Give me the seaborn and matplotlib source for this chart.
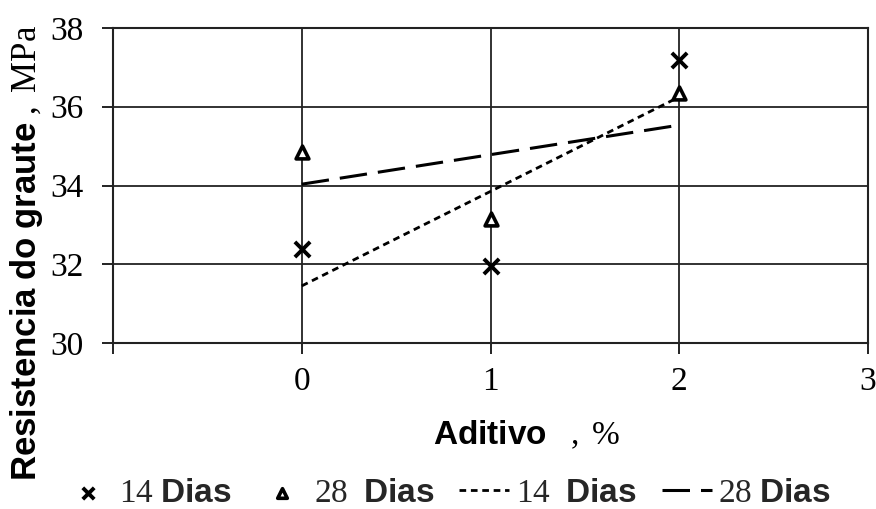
import numpy as np
import pandas as pd
import matplotlib
matplotlib.use("Agg")
import matplotlib.pyplot as plt
import seaborn as sns

# Compressive strength of the grout vs. additive content
aditivo = [0, 1, 2]
dias_14 = [32.4, 31.95, 37.2]
dias_28 = [34.85, 33.15, 36.35]

x_ticks = [-1, 0, 1, 2, 3]
x_ticklabels = ["", "0", "1", "2", "3"]
y_ticks = [30, 32, 34, 36, 38]

lab_14 = r"$\mathrm{14}\ \mathbf{Dias}$"
lab_28 = r"$\mathrm{28}\ \ \mathbf{Dias}$"
lab_14_fit = r"$\mathrm{14}\ \ \mathbf{Dias}$"
lab_28_fit = r"$\mathrm{28}\ \mathbf{Dias}$"

sns.set_theme(style="white")
plt.rcParams.update({
    "font.family": ["Liberation Serif", "DejaVu Serif"],
    "mathtext.fontset": "custom",
    "mathtext.rm": "Liberation Serif",
    "mathtext.bf": "Liberation Sans:bold",
    "mathtext.it": "Liberation Serif:italic",
    "mathtext.sf": "Liberation Sans",
})

df = pd.DataFrame({"aditivo": aditivo, "d14": dias_14, "d28": dias_28})

fig = plt.figure(figsize=(8.76, 5.09), dpi=100)
ax = fig.add_axes([113 / 876, 1 - 343 / 509, 755 / 876, 315 / 509])

# measured points
sns.scatterplot(data=df, x="aditivo", y="d14", marker="x", s=120,
                color="black", linewidth=2.8, ax=ax, label=lab_14, zorder=5)
sns.scatterplot(data=df, x="aditivo", y="d28", marker="^", s=85,
                facecolor="white", edgecolor="black", linewidth=2.6,
                ax=ax, label=lab_28, zorder=5)

# linear trend lines
sns.regplot(data=df, x="aditivo", y="d14", scatter=False, ci=None,
            truncate=True, color="black", ax=ax, label=lab_14_fit,
            line_kws=dict(linewidth=2.0, linestyle=(0, (2.4, 1.7)), zorder=4))
sns.regplot(data=df, x="aditivo", y="d28", scatter=False, ci=None,
            truncate=True, color="black", ax=ax, label=lab_28_fit,
            line_kws=dict(linewidth=2.2, linestyle=(0, (9.0, 3.6)), zorder=4))

ax.set_xlim(-1, 3)
ax.set_ylim(30, 38)
ax.set_xticks(x_ticks)
ax.set_xticklabels(x_ticklabels)
ax.set_yticks(y_ticks)
ax.grid(True, color="#222222", linewidth=1.3)
ax.set_axisbelow(True)
for sp in ax.spines.values():
    sp.set_visible(True)
    sp.set_color("#222222")
    sp.set_linewidth(1.5)
ax.tick_params(axis="both", direction="out", length=8, width=1.4,
               color="#222222", labelsize=24, labelcolor="black",
               bottom=True, left=True)
ax.tick_params(axis="x", pad=9)
ax.tick_params(axis="y", pad=13)

ax.set_xlabel(r"$\mathbf{Aditivo}\ \ \ \mathrm{,\ \%}$", fontsize=24, color="black")
ax.xaxis.set_label_coords(0.548, -0.24)
ax.set_ylabel(r"$\mathbf{Resistencia\ do\ graute}\ \mathrm{,\ MPa}$", fontsize=25, color="black")
ax.yaxis.set_label_coords(-0.09, 0.285)

handles, labels = ax.get_legend_handles_labels()
if ax.get_legend() is not None:
    ax.get_legend().remove()
fig.legend(handles, labels, loc="lower center", ncol=4, frameon=False,
           fontsize=24, handlelength=1.5, handletextpad=0.2,
           columnspacing=0.75, markerscale=0.75,
           bbox_to_anchor=(0.51, -0.058))

fig.savefig("out.png", dpi=100, facecolor="white")
